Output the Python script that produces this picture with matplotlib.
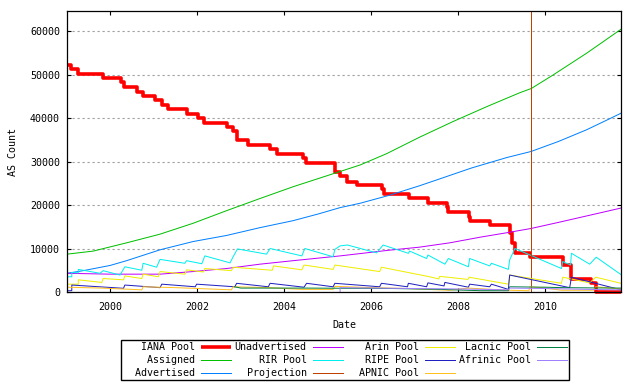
import matplotlib
matplotlib.use("Agg")
import matplotlib.pyplot as plt

plt.rcParams["font.family"] = ["DejaVu Sans Mono"]
plt.rcParams["font.size"] = 7.2

# values in thousands of AS numbers, dates as decimal years
iana_t = [1999.0, 1999.085, 1999.26, 1999.83, 2000.25, 2000.32, 2000.60, 2000.75,
          2001.02, 2001.18, 2001.33, 2001.75, 2002.02, 2002.15, 2002.67, 2002.82,
          2002.90, 2003.17, 2003.67, 2003.82, 2004.43, 2004.49, 2005.16, 2005.28,
          2005.43, 2005.68, 2006.24, 2006.29, 2006.86, 2007.31, 2007.73, 2007.77,
          2008.24, 2008.26, 2008.72, 2009.18, 2009.23, 2009.30, 2009.64, 2010.40,
          2010.60, 2011.06, 2011.16, 2011.74]
iana_v = [52.1, 51.2, 50.1, 49.2, 48.3, 47.1, 46.0, 45.0,
          44.1, 43.0, 42.1, 40.9, 40.0, 38.9, 37.9, 37.0,
          34.9, 33.8, 32.9, 31.7, 30.7, 29.6, 27.5, 26.6,
          25.4, 24.5, 23.6, 22.5, 21.5, 20.4, 19.5, 18.4,
          17.3, 16.4, 15.3, 13.5, 11.3, 9.0, 8.1, 6.2,
          2.9, 2.1, 0.0, 0.0]

assigned_t = [1999.0, 1999.60, 2000.37, 2001.14, 2001.90, 2002.67, 2003.44, 2004.20,
              2004.97, 2005.74, 2006.35, 2007.11, 2007.88, 2008.65, 2009.41, 2009.68,
              2010.18, 2010.95, 2011.74]
assigned_v = [8.7, 9.4, 11.3, 13.3, 15.8, 18.7, 21.5, 24.2,
              26.7, 29.2, 31.8, 35.6, 39.2, 42.6, 45.8, 46.8,
              49.9, 54.9, 60.4]

advertised_t = [1999.0, 1999.37, 1999.99, 2000.37, 2001.14, 2001.90, 2002.67, 2003.44,
                2004.20, 2004.80, 2005.28, 2005.74, 2006.40, 2007.10, 2007.57, 2008.30,
                2009.11, 2009.67, 2010.30, 2010.95, 2011.41, 2011.74]
advertised_v = [4.3, 4.9, 6.1, 7.2, 9.7, 11.6, 13.0, 14.8,
                16.4, 18.0, 19.4, 20.4, 22.2, 24.4, 26.0, 28.5,
                30.9, 32.3, 34.6, 37.3, 39.5, 41.1]

unadv_t = [1999.0, 2000.0, 2001.14, 2001.90, 2002.67, 2003.44, 2004.20, 2005.28,
           2006.40, 2007.10, 2007.80, 2008.50, 2009.10, 2009.67, 2010.30, 2011.0, 2011.74]
unadv_v = [4.3, 4.1, 4.1, 4.7, 5.4, 6.4, 7.2, 8.3,
           9.6, 10.3, 11.3, 12.6, 13.6, 14.6, 16.0, 17.6, 19.3]

rir_t = [1999.00, 1999.11, 1999.11, 1999.26, 1999.26, 1999.76, 1999.83, 2000.22,
         2000.33, 2000.72, 2000.75, 2001.06, 2001.14, 2001.71, 2001.75, 2002.10,
         2002.17, 2002.75, 2002.82, 2002.92, 2003.59, 2003.67, 2004.40, 2004.47,
         2005.12, 2005.16, 2005.28, 2005.45, 2006.12, 2006.27, 2006.85, 2006.88,
         2007.27, 2007.30, 2007.69, 2007.77, 2008.23, 2008.26, 2008.72, 2008.76,
         2009.15, 2009.18, 2009.30, 2010.37, 2010.40, 2010.58, 2010.60, 2011.02,
         2011.17, 2011.74]
rir_v = [3.5, 3.5, 4.5, 4.4, 5.2, 4.3, 4.9, 3.9,
         5.8, 5.0, 6.6, 5.7, 7.5, 6.6, 7.2, 6.5,
         8.3, 6.7, 8.1, 9.9, 8.7, 10.0, 8.3, 10.0,
         8.1, 9.8, 10.6, 10.8, 9.0, 10.8, 8.9, 9.4,
         7.7, 8.5, 6.4, 7.7, 5.8, 7.7, 6.0, 6.6,
         5.2, 7.4, 10.0, 5.4, 7.0, 6.2, 8.9, 6.4,
         8.0, 4.0]

projection_t = 2009.68

arin_t = [1999.00, 1999.26, 1999.26, 1999.80, 1999.83, 2000.30, 2000.33, 2000.72,
          2000.75, 2001.10, 2001.14, 2001.71, 2001.75, 2002.14, 2002.17, 2002.78,
          2002.82, 2003.72, 2003.75, 2004.40, 2004.45, 2005.12, 2005.16, 2006.19,
          2006.23, 2007.34, 2007.55, 2007.57, 2008.22, 2008.25, 2009.15, 2009.18,
          2010.37, 2010.40, 2011.02, 2011.16, 2011.74]
arin_v = [1.8, 1.8, 2.8, 2.2, 3.1, 2.8, 3.7, 3.1,
          4.1, 3.5, 4.7, 4.1, 5.1, 4.6, 5.4, 4.9,
          5.7, 5.0, 6.0, 5.1, 6.2, 5.2, 6.2, 4.7,
          5.7, 3.5, 3.0, 3.6, 2.9, 3.4, 1.8, 3.9,
          2.0, 3.4, 2.1, 3.4, 2.0]

ripe_t = [1999.00, 1999.11, 1999.11, 2000.30, 2000.33, 2001.14, 2001.18, 2001.95,
          2001.98, 2002.86, 2002.90, 2003.63, 2003.67, 2004.45, 2004.51, 2005.12,
          2005.16, 2006.19, 2006.23, 2006.83, 2006.85, 2007.27, 2007.30, 2007.67,
          2007.69, 2008.23, 2008.26, 2008.72, 2008.76, 2009.15, 2009.18, 2010.56,
          2010.60, 2011.74]
ripe_v = [0.3, 0.3, 1.6, 0.85, 1.6, 1.0, 1.8, 1.2,
          1.8, 1.2, 2.0, 1.2, 2.0, 1.1, 2.0, 1.2,
          2.0, 1.2, 2.0, 1.2, 2.0, 1.2, 2.1, 1.4,
          2.2, 1.1, 1.8, 1.2, 1.8, 0.6, 3.9, 1.0,
          3.4, 0.5]

apnic_t = [1999.00, 1999.80, 2000.72, 2000.75, 2001.50, 2002.78, 2002.82, 2003.67,
           2004.40, 2005.12, 2005.16, 2006.00, 2006.85, 2007.30, 2007.80, 2008.22,
           2009.15, 2009.62, 2009.65, 2010.00, 2010.37, 2011.10, 2011.16, 2011.74]
apnic_v = [1.1, 0.9, 0.5, 1.2, 1.0, 0.5, 1.2, 1.0,
           0.6, 0.6, 1.3, 1.0, 0.8, 0.6, 0.4, 0.9,
           0.4, 0.3, 1.2, 0.9, 0.4, 0.4, 1.2, 0.7]

lacnic_t = [2002.85, 2003.0, 2004.5, 2005.5, 2006.5, 2007.6, 2008.5, 2009.15,
            2009.18, 2010.0, 2010.4, 2011.0, 2011.74]
lacnic_v = [1.2, 0.9, 0.9, 0.85, 0.8, 0.6, 0.3, 0.3,
            1.2, 1.1, 1.0, 0.95, 0.9]

afrinic_t = [2005.28, 2005.28, 2006.0, 2007.0, 2008.0, 2009.15, 2009.18, 2010.0,
             2011.0, 2011.74]
afrinic_v = [0.0, 1.0, 0.9, 0.8, 0.7, 0.5, 0.9, 0.8, 0.6, 0.5]

year_ticks = [2000, 2002, 2004, 2006, 2008, 2010]
count_ticks = [0, 10000, 20000, 30000, 40000, 50000, 60000]


def k(vals):
    return [v * 1000 for v in vals]


fig = plt.figure(figsize=(6.4, 3.84), dpi=100)
ax = fig.add_axes([67 / 640, 1 - 292 / 384, (621 - 67) / 640, (292 - 11) / 384])

thin = 0.72
handles = []
handles += ax.plot(iana_t, k(iana_v), color="#ff0000", lw=2.6, label="IANA Pool",
                   drawstyle="steps-post", clip_on=False, solid_capstyle="butt")
handles += ax.plot(assigned_t, k(assigned_v), color="#00c000", lw=thin, label="Assigned")
handles += ax.plot(advertised_t, k(advertised_v), color="#0080ff", lw=thin, label="Advertised")
handles += ax.plot(unadv_t, k(unadv_v), color="#c000ff", lw=thin, label="Unadvertised")
handles += ax.plot(rir_t, k(rir_v), color="#00eeee", lw=thin, label="RIR Pool")
handles.append(ax.axvline(projection_t, color="#c04000", lw=thin, label="Projection"))
handles += ax.plot(arin_t, k(arin_v), color="#eeee00", lw=thin, label="Arin Pool")
handles += ax.plot(ripe_t, k(ripe_v), color="#2020c0", lw=thin, label="RIPE Pool")
handles += ax.plot(apnic_t, k(apnic_v), color="#ffc020", lw=thin, label="APNIC Pool")
handles += ax.plot(lacnic_t, k(lacnic_v), color="#008040", lw=thin, label="Lacnic Pool")
handles += ax.plot(afrinic_t, k(afrinic_v), color="#a080ff", lw=thin, label="Afrinic Pool")

ax.set_xlim(1999.0, 2011.74)
ax.set_ylim(0, 64600)
ax.set_xticks(year_ticks)
ax.set_xticklabels([str(y) for y in year_ticks])
ax.set_yticks(count_ticks)
ax.set_yticklabels([str(c) for c in count_ticks])
ax.tick_params(direction="in", length=3, width=0.8, top=True, right=True, colors="black")
ax.tick_params(axis="x", pad=7)
ax.tick_params(axis="y", pad=5)
ax.yaxis.grid(True, color="#a0a0a0", linestyle=(0, (2, 2.5)), linewidth=0.8)
ax.set_axisbelow(True)
for sp in ax.spines.values():
    sp.set_linewidth(0.9)

ax.set_xlabel("Date", labelpad=6)
ax.set_ylabel("AS Count", labelpad=9)

labels = [h.get_label().rjust(12) for h in handles]
fig.legend(handles, labels, loc="upper left", bbox_to_anchor=(120.7 / 640, 1 - 340 / 384),
           ncol=4, markerfirst=False, fancybox=False, edgecolor="black", framealpha=1,
           borderpad=0.2, borderaxespad=0, handlelength=3.0, handletextpad=0.6,
           columnspacing=0.4, labelspacing=0.3, fontsize=7.2)

fig.savefig("out.png", dpi=100)
